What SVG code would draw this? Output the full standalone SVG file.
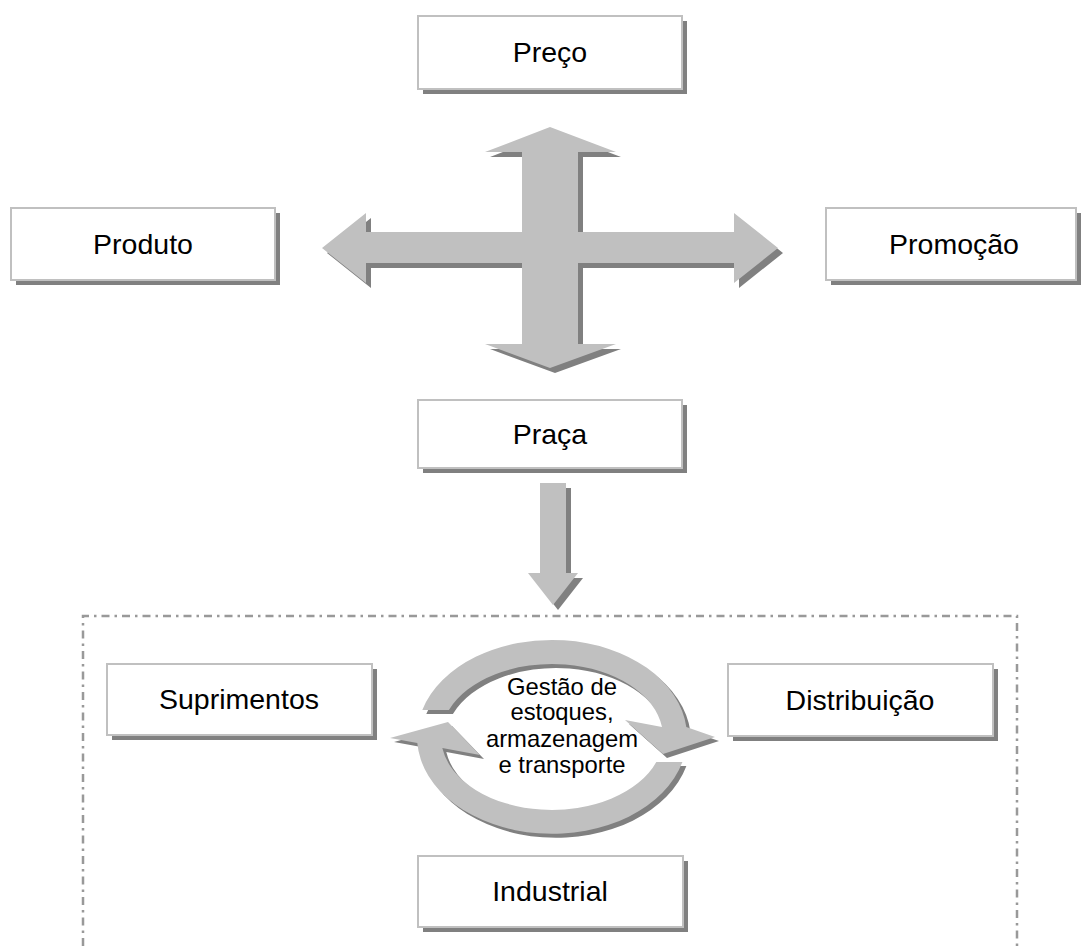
<svg xmlns="http://www.w3.org/2000/svg" width="1081" height="946" viewBox="0 0 1081 946">
<style>
.box{fill:#ffffff;stroke:#c0c0c0;stroke-width:2}
.sh{fill:#808080}
.arr{fill:#c0c0c0}
.lbl{font-family:"Liberation Sans",Arial,sans-serif;font-size:28.5px;fill:#000;text-anchor:middle}
.small{font-family:"Liberation Sans",Arial,sans-serif;font-size:23.8px;fill:#000;text-anchor:middle}
</style>
<rect width="1081" height="946" fill="#ffffff"/>
<g id="group-boundary">
<path d="M83 946 V616 H1017 V946" fill="none" stroke="#999999" stroke-width="2.5" stroke-dasharray="8 5 2.5 5"/>
</g>
<g id="connectors">
<g id="cross-arrow">
<path class="sh" transform="translate(5,5)" d="M550 127 L616 152 L578 152 L578 232 L734 232 L734 213 L778 248 L734 283 L734 263 L578 263 L578 344 L616 344 L550 368 L485 344 L522 344 L522 263 L366 263 L366 283 L322 248 L366 213 L366 232 L522 232 L522 152 L485 152 Z"/>
<path class="arr" d="M550 127 L616 152 L578 152 L578 232 L734 232 L734 213 L778 248 L734 283 L734 263 L578 263 L578 344 L616 344 L550 368 L485 344 L522 344 L522 263 L366 263 L366 283 L322 248 L366 213 L366 232 L522 232 L522 152 L485 152 Z"/>
</g>
<g id="down-arrow">
<path class="sh" transform="translate(5,5)" d="M540 483 L566 483 L566 573 L578 573 L553 605 L528 573 L540 573 Z"/>
<path class="arr" d="M540 483 L566 483 L566 573 L578 573 L553 605 L528 573 L540 573 Z"/>
</g>
<g id="cycle-arrow">
<path class="sh" transform="translate(4,4)" d="M422.3 710 A135 97 0 0 1 686.3 727 L715 737 L663 754 L625 720 L662 727 A111 73 0 0 0 448.9 710 Z"/>
<path class="sh" transform="translate(4,4)" d="M682.4 762 A135 97 0 0 1 417.3 743 L390 738 L448 722 L480 755 L442.3 748 A111 73 0 0 0 656.3 762 Z"/>
<path class="arr" d="M422.3 710 A135 97 0 0 1 686.3 727 L715 737 L663 754 L625 720 L662 727 A111 73 0 0 0 448.9 710 Z"/>
<path class="arr" d="M682.4 762 A135 97 0 0 1 417.3 743 L390 738 L448 722 L480 755 L442.3 748 A111 73 0 0 0 656.3 762 Z"/>
</g>
</g>
<g id="node-preco">
<rect class="sh" x="423" y="21" width="264" height="73"/>
<rect class="box" x="418" y="16" width="264" height="73"/>
<text class="lbl" x="550" y="62">Preço</text>
</g>
<g id="node-produto">
<rect class="sh" x="16" y="213" width="264" height="72"/>
<rect class="box" x="11" y="208" width="264" height="72"/>
<text class="lbl" x="143" y="254">Produto</text>
</g>
<g id="node-promocao">
<rect class="sh" x="831" y="213" width="250" height="72"/>
<rect class="box" x="826" y="208" width="250" height="72"/>
<text class="lbl" x="954" y="254">Promoção</text>
</g>
<g id="node-praca">
<rect class="sh" x="423" y="405" width="264" height="68"/>
<rect class="box" x="418" y="400" width="264" height="68"/>
<text class="lbl" x="550" y="444">Praça</text>
</g>
<g id="node-suprimentos">
<rect class="sh" x="112" y="669" width="265" height="71"/>
<rect class="box" x="107" y="664" width="265" height="71"/>
<text class="lbl" x="239" y="709">Suprimentos</text>
</g>
<g id="node-distribuicao">
<rect class="sh" x="733" y="669" width="265" height="72"/>
<rect class="box" x="728" y="664" width="265" height="72"/>
<text class="lbl" x="860" y="710">Distribuição</text>
</g>
<g id="node-industrial">
<rect class="sh" x="423" y="861" width="265" height="71"/>
<rect class="box" x="418" y="856" width="265" height="71"/>
<text class="lbl" x="550" y="901">Industrial</text>
</g>
<g id="node-gestao">
<text class="small" x="562" y="695">Gestão de</text>
<text class="small" x="562" y="720">estoques,</text>
<text class="small" x="562" y="747">armazenagem</text>
<text class="small" x="562" y="773">e transporte</text>
</g>
</svg>
